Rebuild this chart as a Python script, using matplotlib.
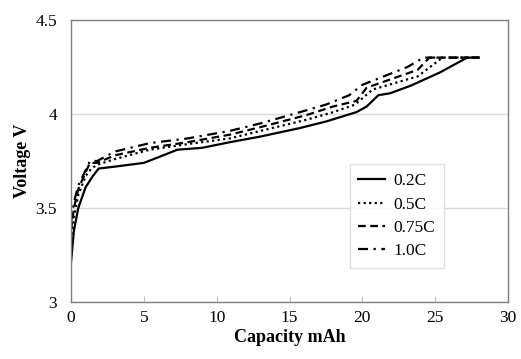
import matplotlib
matplotlib.use("Agg")
import matplotlib.pyplot as plt

# Data
x_02 = [0, 0.2, 0.5, 1.0, 1.5, 1.9, 3, 5, 6, 7.3, 9, 10.9, 13, 15.7, 17.5, 19.6, 20.3, 21.1, 21.9, 23.3, 25.3, 27.2, 28.0]
v_02 = [3.21, 3.38, 3.50, 3.61, 3.67, 3.71, 3.72, 3.74, 3.77, 3.81, 3.82, 3.85, 3.88, 3.925, 3.96, 4.01, 4.04, 4.10, 4.11, 4.15, 4.22, 4.30, 4.30]

x_05 = [0, 0.2, 0.5, 1.0, 1.4, 1.8, 3, 5.4, 8, 10.9, 13, 16.2, 18, 19.5, 20.7, 23.8, 25.5, 28.0]
v_05 = [3.30, 3.45, 3.57, 3.67, 3.71, 3.73, 3.76, 3.81, 3.84, 3.87, 3.91, 3.97, 4.01, 4.05, 4.13, 4.20, 4.30, 4.30]

x_075 = [0, 0.2, 0.5, 1.0, 1.3, 1.8, 3, 5.4, 8, 10.9, 13, 16.2, 18, 19.6, 20.3, 23.8, 24.6, 28.0]
v_075 = [3.38, 3.50, 3.60, 3.69, 3.74, 3.74, 3.78, 3.82, 3.85, 3.89, 3.93, 3.995, 4.04, 4.07, 4.14, 4.235, 4.30, 4.30]

x_10 = [0, 0.2, 0.5, 1.0, 1.3, 1.8, 3, 5.4, 8, 10.9, 13, 15.5, 17.5, 19.1, 20.0, 23.1, 24.2, 28.0]
v_10 = [3.42, 3.53, 3.62, 3.70, 3.75, 3.75, 3.80, 3.845, 3.87, 3.91, 3.95, 4.005, 4.05, 4.10, 4.155, 4.25, 4.30, 4.30]

series = [
    (x_02, v_02, "0.2C", "-"),
    (x_05, v_05, "0.5C", (0, (1, 1.5))),
    (x_075, v_075, "0.75C", (0, (3.5, 2))),
    (x_10, v_10, "1.0C", (0, (4.5, 2.5, 1, 2.5))),
]

x_ticks = [0, 5, 10, 15, 20, 25, 30]
y_ticks = [3, 3.5, 4, 4.5]
y_tick_labels = ["3", "3.5", "4", "4.5"]

plt.rcParams['font.family'] = ['Liberation Serif', 'DejaVu Serif']

fig = plt.figure(figsize=(5.21, 3.59), dpi=100)
ax = fig.add_axes([71/521, 1 - 302/359, (508-71)/521, (302-20)/359])

for xs, vs, lab, ls in series:
    ax.plot(xs, vs, color='black', linestyle=ls, linewidth=1.6, label=lab)

ax.set_xlim(0, 30)
ax.set_ylim(3, 4.5)
ax.set_xticks(x_ticks)
ax.set_yticks(y_ticks)
ax.set_yticklabels(y_tick_labels)
ax.yaxis.grid(True, color='#d9d9d9', linewidth=1)
ax.set_axisbelow(True)
for s in ax.spines.values():
    s.set_color('#808080')
    s.set_linewidth(1)
ax.tick_params(axis='x', direction='in', length=4, color='#bfbfbf', labelsize=12.5, pad=6)
ax.tick_params(axis='y', length=0, labelsize=12.5, pad=10)

ax.set_xlabel("Capacity mAh", fontsize=13, fontweight='bold', labelpad=2)
ax.set_ylabel("Voltage V", fontsize=13, fontweight='bold', labelpad=3)

leg = ax.legend(loc='lower left', bbox_to_anchor=(0.638, 0.12), fontsize=12.5,
                frameon=True, fancybox=False, edgecolor='#d9d9d9',
                handlelength=1.5, borderpad=0.5, labelspacing=0.42, handletextpad=0.5,
                borderaxespad=0)
leg.get_frame().set_linewidth(1)

fig.savefig("out.png", dpi=100)
